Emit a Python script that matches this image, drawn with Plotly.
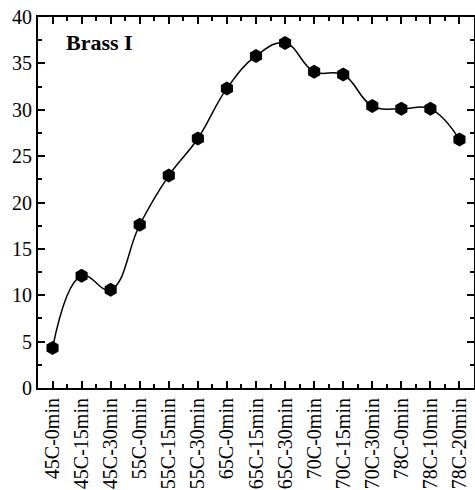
import numpy as np
import plotly.graph_objects as go

# Samples along the heat-treatment schedule and the measured values
categories = ["45C-0min", "45C-15min", "45C-30min", "55C-0min", "55C-15min",
              "55C-30min", "65C-0min", "65C-15min", "65C-30min", "70C-0min",
              "70C-15min", "70C-30min", "78C-0min", "78C-10min", "78C-20min"]
values = [4.3, 12.1, 10.6, 17.6, 22.9, 26.9, 32.3, 35.8, 37.2, 34.1,
          33.8, 30.4, 30.1, 30.1, 26.8]
y_ticks = [0, 5, 10, 15, 20, 25, 30, 35, 40]
label = "Brass I"

x = np.arange(len(categories))
font = "Liberation Serif, Times New Roman, serif"

fig = go.Figure()
fig.add_trace(go.Scatter(
    x=x, y=values, mode="lines",
    line=dict(color="black", width=1.5, shape="spline", smoothing=1.2),
    hoverinfo="skip", showlegend=False,
))
fig.add_trace(go.Scatter(
    x=x, y=values, mode="markers",
    marker=dict(symbol="hexagon", size=14, color="black",
                line=dict(width=0)),
    showlegend=False,
))

fig.add_annotation(
    x=0.06, y=0.93, xref="paper", yref="paper", xanchor="left", yanchor="middle",
    text="<b>%s</b>" % label, showarrow=False,
    font=dict(family=font, size=22, color="black"),
)

axis_common = dict(
    showline=True, linecolor="black", linewidth=2, mirror="allticks",
    ticks="inside", ticklen=7, tickwidth=1.5, tickcolor="black",
    showgrid=False, zeroline=False, automargin=False,
    tickfont=dict(family=font, size=20, color="black"),
)

fig.update_xaxes(
    range=[-0.5, len(categories) - 0.5],
    tickvals=list(x), ticktext=categories, tickangle=-90,
    minor=dict(tickvals=list(x[:-1] + 0.5), ticks="inside", ticklen=4,
               tickwidth=1.5, tickcolor="black"),
    **axis_common,
)
fig.update_yaxes(
    range=[0, 40], tickvals=y_ticks,
    minor=dict(dtick=2.5, tick0=0, ticks="inside", ticklen=4,
               tickwidth=1.5, tickcolor="black"),
    **axis_common,
)

fig.update_layout(
    width=475, height=490,
    margin=dict(l=38, r=1, t=17, b=102),
    plot_bgcolor="white", paper_bgcolor="white",
)

fig.write_html("out.html")
